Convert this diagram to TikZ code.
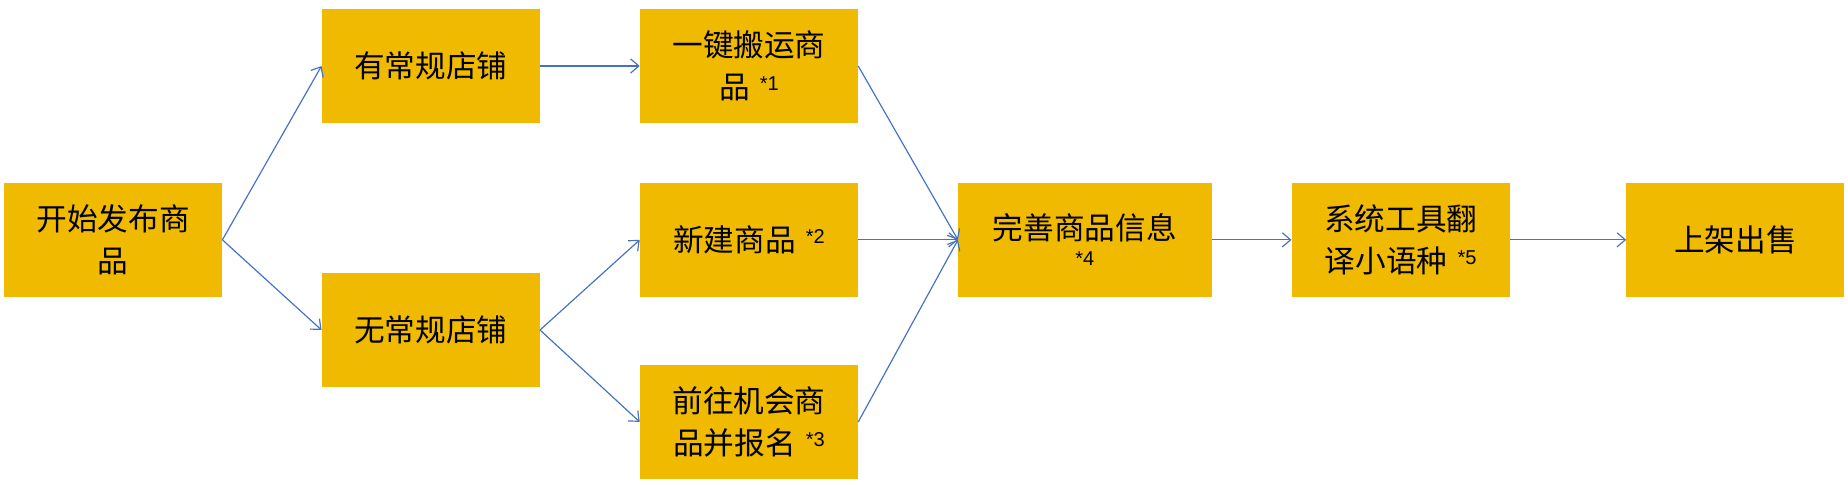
\documentclass[tikz,border=0pt]{standalone}
\usepackage{fontspec}
\setmainfont{Noto Sans CJK SC}
\newfontfamily\latinf{Liberation Sans}
\usetikzlibrary{arrows.meta}
\definecolor{boxc}{HTML}{F0BA00}
\definecolor{linec}{HTML}{4472C4}
\begin{document}
\begin{tikzpicture}[x=1pt,y=-1pt,
  bx/.style={fill=boxc,draw=none,minimum height=97pt,inner sep=0pt,align=center,font=\fontsize{26}{36}\selectfont},
  ar/.style={draw=linec,line width=1pt,-{Straight Barb[length=7pt,width=12pt]}},
  sup/.style={}]
\newcommand{\nt}[1]{\raisebox{7pt}{\latinf\fontsize{17}{17}\selectfont *#1}}
\useasboundingbox (0,0) rectangle (1568,411);
\node[bx,minimum width=185pt,text width=160pt] (a) at (96,203.5) {开始发布商\\品};
\node[bx,minimum width=185pt] (b1) at (365.5,56) {有常规店铺};
\node[bx,minimum width=185pt] (b2) at (365.5,280) {无常规店铺};
\node[bx,minimum width=185pt,text width=160pt] (c1) at (635.5,56) {一键搬运商\\品 \nt{1}};
\node[bx,minimum width=185pt,text width=160pt] (c2) at (635.5,203.5) {新建商品 \nt{2}};
\node[bx,minimum width=185pt,text width=160pt] (c3) at (635.5,358) {前往机会商\\品并报名 \nt{3}};
\node[bx,minimum width=215pt,text width=190pt] (d) at (920.5,203.5) {完善商品信息\\[-14pt]{\latinf\fontsize{17}{17}\selectfont *4}};
\node[bx,minimum width=185pt,text width=160pt] (e) at (1188.5,203.5) {系统工具翻\\译小语种 \nt{5}};
\node[bx,minimum width=185pt] (f) at (1472.5,203.5) {上架出售};
\draw[ar] (a.east) -- (b1.west);
\draw[ar] (a.east) -- (b2.west);
\draw[ar] (b1.east) -- (c1.west);
\draw[ar] (b2.east) -- (c2.west);
\draw[ar] (b2.east) -- (c3.west);
\draw[ar] (c1.east) -- (d.west);
\draw[ar] (c2.east) -- (d.west);
\draw[ar] (c3.east) -- (d.west);
\draw[ar] (d.east) -- (e.west);
\draw[ar] (e.east) -- (f.west);
\end{tikzpicture}
\end{document}
